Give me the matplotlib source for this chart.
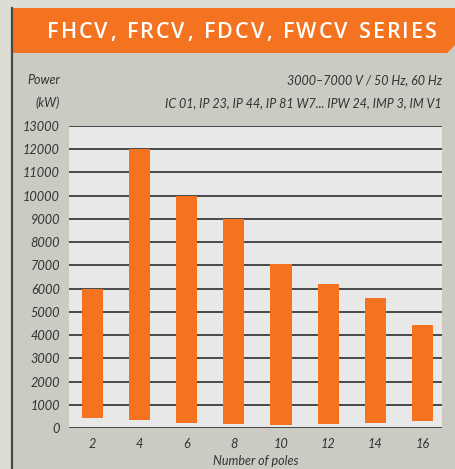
import matplotlib.pyplot as plt
from matplotlib.patches import Rectangle, Polygon

plt.rcParams['font.family'] = ['Lato', 'DejaVu Sans']

# Number of poles and the power range (kW) for each
poles = ['2', '4', '6', '8', '10', '12', '14', '16']
power_min = [430, 350, 220, 170, 130, 170, 210, 300]
power_max = [6000, 12000, 10000, 9000, 7050, 6200, 5600, 4430]
yticks = list(range(0, 13001, 1000))

title = 'FHCV, FRCV, FDCV, FWCV SERIES'
voltage = '3000\u20137000 V / 50 Hz, 60 Hz'
protection = 'IC 01, IP 23, IP 44, IP 81 W7... IPW 24, IMP 3, IM V1'

orange = '#f47321'
W, H = 456, 469
fig = plt.figure(figsize=(W / 100, H / 100), dpi=100)
fig.patch.set_facecolor('#dddcd5')

# background in pixel coordinates
bg = fig.add_axes([0, 0, 1, 1])
bg.set_xlim(0, W)
bg.set_ylim(H, 0)
bg.axis('off')
bg.add_patch(Rectangle((12, 8), W - 12, H - 8, facecolor='#cccbc3', edgecolor='none'))
bg.plot([12.5, 12.5], [8, H], color='#4a4a48', lw=1.6)
bg.add_patch(Polygon([(12, 8), (W, 8), (W, 44), (447, 53), (12, 53)],
                     closed=True, facecolor=orange, edgecolor='none'))

# title with wide letter spacing: place characters one by one
renderer = fig.canvas.get_renderer()
tstyle = dict(color='white', fontsize=15.5, fontweight='semibold',
              family=['Open Sans', 'DejaVu Sans'], va='baseline', ha='left')
widths = []
for ch in title:
    t = bg.text(0, 0, ch.replace(' ', 'n'), **tstyle)
    w = t.get_window_extent(renderer).width
    widths.append(w * (0.5 if ch == ' ' else 1.0))
    t.remove()
x0, x1 = 47, 437
track = (x1 - x0 - sum(widths)) / (len(title) - 1)
xp = x0
for ch, w in zip(title, widths):
    bg.text(xp, 38, ch, **tstyle)
    xp += w + track

txt = dict(fontsize=9.0, style='italic', color='#333333', va='center')
bg.text(60, 80, 'Power', ha='right', **txt)
bg.text(60, 103, '(kW)', ha='right', **txt)
bg.text(442, 80, voltage, ha='right', **txt)
bg.text(442, 103, protection, ha='right', **txt)
bg.text(255.5, 461, 'Number of poles', ha='center', **txt)

# chart
ax = fig.add_axes([69 / W, (H - 428) / H, (442 - 69) / W, (428 - 126) / H])
ax.set_facecolor('#e7e8e7')
x = range(len(poles))
heights = [t - b for t, b in zip(power_max, power_min)]
ax.bar(x, heights, bottom=power_min, width=0.445, color=orange, zorder=3)

ax.set_xlim(-0.49, 7.41)
ax.set_ylim(0, 13000)
ax.set_yticks(yticks)
ax.set_yticklabels([str(v) for v in yticks])
ax.set_xticks(list(x))
ax.set_xticklabels(poles)
ax.set_axisbelow(True)
ax.yaxis.grid(True, color='#3c3c3c', lw=1.3)
for s in ax.spines.values():
    s.set_visible(False)
ax.tick_params(axis='both', length=0, labelsize=9.2, labelcolor='#333333')
ax.tick_params(axis='y', pad=6.5)
ax.tick_params(axis='x', pad=7)
for lbl in ax.get_xticklabels() + ax.get_yticklabels():
    lbl.set_style('italic')

plt.savefig('out.png', dpi=100)
